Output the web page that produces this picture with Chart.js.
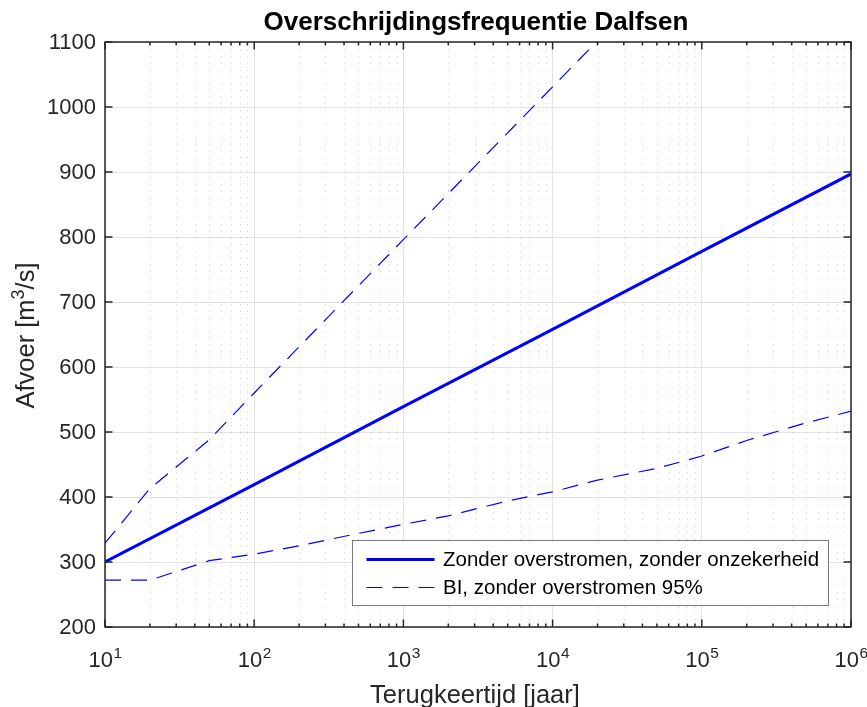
<!DOCTYPE html>
<html>
<head>
<meta charset="utf-8">
<script src="https://cdn.jsdelivr.net/npm/chart.js@4/dist/chart.umd.min.js"></script>
<style>
  html, body { margin: 0; padding: 0; background: #ffffff; }
  #wrap { width: 867px; height: 707px; }
</style>
</head>
<body>
<div id="wrap"><canvas id="c" width="867" height="707"></canvas></div>
<script>
// Return period (years) and discharge (m3/s) for the Dalfsen exceedance curves
const centralT = [10, 100, 1000, 1e4, 1e5, 1e6];
const centralQ = [300, 419, 539, 658, 778, 897];

const upperT = [10, 20, 50, 100, 1000, 1e4, 1e5];
const upperQ = [329, 413, 488, 560, 796, 1031, 1266];

const lowerT = [10, 20, 50, 100, 200, 500, 1000, 2000, 5000, 1e4, 2e4, 5e4, 1e5, 2e5, 5e5, 1e6];
const lowerQ = [272, 272, 302, 312, 325, 344, 358, 371, 394, 408, 426, 444, 463, 487, 514, 532];

const seriesNames = ['Zonder overstromen, zonder onzekerheid', 'BI, zonder overstromen 95%'];

// Axis ticks
const xExponents = [1, 2, 3, 4, 5, 6];
const yTickValues = [200, 300, 400, 500, 600, 700, 800, 900, 1000, 1100];

const titleText = 'Overschrijdingsfrequentie Dalfsen';
const xTitle = 'Terugkeertijd [jaar]';
const yTitleParts = ['Afvoer [m', '3', '/s]'];

const FONT = '"Liberation Sans", Arial, Helvetica, sans-serif';
const INK = '#262626';

const toXY = (xs, ys) => xs.map((x, i) => ({ x: x, y: ys[i] }));

const axesDecor = {
  id: 'axesDecor',
  beforeDatasetsDraw(chart) {
    // dotted minor grid lines between the decades
    const { ctx, chartArea: a, scales: { x } } = chart;
    ctx.save();
    ctx.beginPath();
    ctx.rect(a.left, a.top, a.right - a.left, a.bottom - a.top);
    ctx.clip();
    ctx.strokeStyle = 'rgba(0,0,0,0.2)';
    ctx.lineWidth = 1;
    ctx.setLineDash([1, 5.7]);
    for (let e = 1; e < 6; e++) {
      for (let m = 2; m <= 9; m++) {
        const px = Math.round(x.getPixelForValue(m * Math.pow(10, e))) + 0.5;
        ctx.beginPath();
        ctx.moveTo(px, a.bottom);
        ctx.lineTo(px, a.top);
        ctx.stroke();
      }
    }
    ctx.restore();
  },
  afterDatasetsDraw(chart) {
    const { ctx, chartArea: a, scales: { x, y } } = chart;
    ctx.save();
    ctx.strokeStyle = INK;
    ctx.lineWidth = 1.5;
    ctx.setLineDash([]);

    // x ticks (major and minor), inside on bottom and top
    for (let e = 1; e <= 6; e++) {
      for (let m = 1; m <= 9; m++) {
        if (e === 6 && m > 1) break;
        const v = m * Math.pow(10, e);
        const px = x.getPixelForValue(v);
        const len = m === 1 ? 7.5 : 3.5;
        ctx.beginPath();
        ctx.moveTo(px, a.bottom); ctx.lineTo(px, a.bottom - len);
        ctx.moveTo(px, a.top); ctx.lineTo(px, a.top + len);
        ctx.stroke();
      }
    }
    // y ticks, inside on left and right
    yTickValues.forEach(v => {
      const py = y.getPixelForValue(v);
      ctx.beginPath();
      ctx.moveTo(a.left, py); ctx.lineTo(a.left + 7.5, py);
      ctx.moveTo(a.right, py); ctx.lineTo(a.right - 7.5, py);
      ctx.stroke();
    });
    // box
    ctx.strokeRect(a.left, a.top, a.right - a.left, a.bottom - a.top);

    // tick labels
    ctx.fillStyle = INK;
    ctx.textBaseline = 'alphabetic';
    xExponents.forEach(e => {
      const px = x.getPixelForValue(Math.pow(10, e));
      ctx.font = '22px ' + FONT;
      const wBase = ctx.measureText('10').width;
      ctx.font = '15.5px ' + FONT;
      const wExp = ctx.measureText(String(e)).width;
      const left = px - (wBase + wExp) / 2;
      ctx.font = '22px ' + FONT;
      ctx.textAlign = 'left';
      ctx.fillText('10', left, 667);
      ctx.font = '15.5px ' + FONT;
      ctx.fillText(String(e), left + wBase + 0.5, 657.5);
    });
    ctx.font = '22px ' + FONT;
    ctx.textAlign = 'right';
    ctx.textBaseline = 'middle';
    yTickValues.forEach(v => {
      ctx.fillText(String(v), 96, y.getPixelForValue(v) + 1);
    });

    // axis titles
    ctx.textBaseline = 'alphabetic';
    ctx.textAlign = 'center';
    ctx.font = '25.5px ' + FONT;
    ctx.fillText(xTitle, (a.left + a.right) / 2 - 3, 702.5);

    ctx.save();
    ctx.translate(33.5, (a.top + a.bottom) / 2 + 1);
    ctx.rotate(-Math.PI / 2);
    ctx.font = '25.5px ' + FONT;
    const w0 = ctx.measureText(yTitleParts[0]).width;
    const w2 = ctx.measureText(yTitleParts[2]).width;
    ctx.font = '18px ' + FONT;
    const w1 = ctx.measureText(yTitleParts[1]).width;
    let cx = -(w0 + w1 + w2) / 2;
    ctx.textAlign = 'left';
    ctx.font = '25.5px ' + FONT;
    ctx.fillText(yTitleParts[0], cx, 0);
    cx += w0;
    ctx.font = '18px ' + FONT;
    ctx.fillText(yTitleParts[1], cx, -10);
    cx += w1;
    ctx.font = '25.5px ' + FONT;
    ctx.fillText(yTitleParts[2], cx, 0);
    ctx.restore();

    // title
    ctx.fillStyle = '#000000';
    ctx.font = 'bold 26px ' + FONT;
    ctx.textAlign = 'center';
    ctx.fillText(titleText, (a.left + a.right) / 2 - 2, 30);

    // legend
    const lx = 352.5, ly = 540.5, lw = 476, lh = 65;
    ctx.fillStyle = '#ffffff';
    ctx.fillRect(lx, ly, lw, lh);
    ctx.strokeStyle = '#7a7a7a';
    ctx.lineWidth = 1;
    ctx.strokeRect(lx, ly, lw, lh);
    const rows = [559.5, 587.5];
    chart.data.datasets.slice(0, 2).forEach((ds, i) => {
      ctx.strokeStyle = ds.borderColor;
      ctx.lineWidth = ds.borderWidth;
      ctx.setLineDash(ds.borderDash || []);
      ctx.beginPath();
      ctx.moveTo(366.5, rows[i]);
      ctx.lineTo(434.5, rows[i]);
      ctx.stroke();
      ctx.setLineDash([]);
      ctx.fillStyle = '#000000';
      ctx.font = '20.5px ' + FONT;
      ctx.textAlign = 'left';
      ctx.textBaseline = 'middle';
      ctx.fillText(seriesNames[i], 443, rows[i] + 1);
    });
    ctx.restore();
  }
};

new Chart(document.getElementById('c'), {
  type: 'scatter',
  data: {
    datasets: [
      {
        label: seriesNames[0],
        data: toXY(centralT, centralQ),
        showLine: true,
        borderColor: '#0000ff',
        borderWidth: 3,
        pointRadius: 0,
        tension: 0
      },
      {
        label: seriesNames[1],
        data: toXY(upperT, upperQ),
        showLine: true,
        borderColor: '#0000ff',
        borderWidth: 1.2,
        borderDash: [16, 10],
        pointRadius: 0,
        tension: 0
      },
      {
        label: seriesNames[1] + ' (onder)',
        data: toXY(lowerT, lowerQ),
        showLine: true,
        borderColor: '#0000ff',
        borderWidth: 1.2,
        borderDash: [16, 10],
        pointRadius: 0,
        tension: 0
      }
    ]
  },
  options: {
    responsive: false,
    animation: false,
    devicePixelRatio: 1,
    layout: { padding: { left: 105, right: 16, top: 42, bottom: 80 } },
    plugins: { legend: { display: false }, tooltip: { enabled: false }, title: { display: false } },
    scales: {
      x: {
        type: 'logarithmic',
        min: 10,
        max: 1e6,
        afterBuildTicks: s => { s.ticks = xExponents.map(e => ({ value: Math.pow(10, e) })); },
        ticks: { display: false },
        grid: { color: '#e3e3e3', lineWidth: 1, drawTicks: false },
        border: { display: false }
      },
      y: {
        type: 'linear',
        min: 200,
        max: 1100,
        afterBuildTicks: s => { s.ticks = yTickValues.map(v => ({ value: v })); },
        ticks: { display: false },
        grid: { color: '#e3e3e3', lineWidth: 1, drawTicks: false },
        border: { display: false }
      }
    }
  },
  plugins: [axesDecor]
});
</script>
</body>
</html>
